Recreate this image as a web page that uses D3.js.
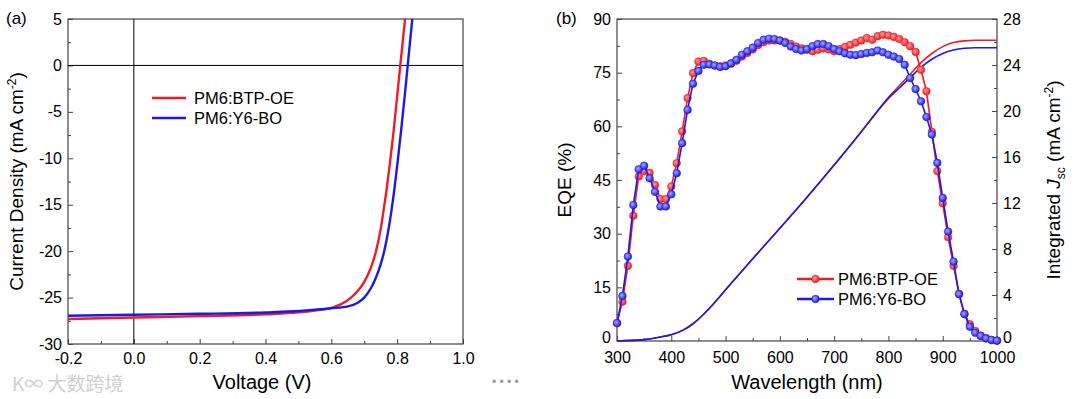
<!DOCTYPE html>
<html>
<head>
<meta charset="utf-8">
<script src="https://cdn.jsdelivr.net/npm/d3@7"></script>
<style>
body { margin: 0; background: #fff; }
svg { display: block; font-family: "Liberation Sans", Arial, sans-serif; }
</style>
</head>
<body>
<div id="chart"></div>
<script>
// ---- (a) J-V curves ----
const jvVoltRed = [-0.2, 0.0, 0.2, 0.4, 0.5, 0.55, 0.6, 0.63, 0.66, 0.68, 0.70, 0.72, 0.735, 0.75, 0.76, 0.77, 0.78, 0.79, 0.80, 0.81, 0.824];
const jvCurRed  = [-27.3, -27.15, -27.0, -26.8, -26.6, -26.4, -26.1, -25.7, -25.0, -24.3, -23.3, -21.8, -20.1, -17.6, -15.3, -12.8, -9.9, -6.8, -3.3, 0.2, 5];
const jvVoltBlue = [-0.2, 0.0, 0.2, 0.4, 0.5, 0.55, 0.6, 0.65, 0.68, 0.70, 0.72, 0.735, 0.75, 0.762, 0.772, 0.782, 0.792, 0.802, 0.812, 0.822, 0.832, 0.846];
const jvCurBlue  = [-26.95, -26.85, -26.75, -26.6, -26.45, -26.3, -26.15, -25.95, -25.55, -25.0, -24.0, -22.9, -21.4, -19.8, -18.0, -15.8, -13.2, -10.2, -7.0, -3.6, 0, 5];

// ---- (b) EQE + integrated Jsc ----
const wavelengths = [300, 310, 320, 330, 340, 350, 360, 370, 380, 390,
  400, 410, 420, 430, 440, 450, 460, 470, 480, 490,
  500, 510, 520, 530, 540, 550, 560, 570, 580, 590,
  600, 610, 620, 630, 640, 650, 660, 670, 680, 690,
  700, 710, 720, 730, 740, 750, 760, 770, 780, 790,
  800, 810, 820, 830, 840, 850, 860, 870, 880, 890,
  900, 910, 920, 930, 940, 950, 960, 970, 980, 990, 1000];
const eqeRed = [5.0, 11.0, 21.0, 35.0, 46.0, 47.5, 47.0, 43.6, 39.7, 39.7,
  43.2, 49.7, 58.6, 67.9, 74.9, 78.1, 78.3, 77.5, 77.0, 76.8,
  77.0, 77.5, 78.3, 79.5, 80.5, 81.5, 82.7, 83.5, 84.0, 84.0,
  84.0, 83.6, 83.0, 82.3, 81.8, 81.4, 81.0, 81.4, 81.8, 81.5,
  81.0, 81.6, 82.2, 82.8, 83.4, 84.0, 84.7, 84.2, 85.2, 85.6,
  85.4, 85.0, 84.4, 83.5, 82.4, 80.8, 75.8, 69.8, 58.5, 47.5,
  38.5, 29.0, 21.0, 13.2, 7.6, 4.7, 2.8, 1.5, 0.8, 0.3, 0.1];
const eqeBlue = [5.0, 12.6, 23.6, 38.0, 48.0, 49.0, 45.5, 41.7, 37.6, 37.6,
  41.0, 46.9, 55.3, 64.6, 71.9, 75.5, 77.2, 77.3, 77.0, 76.6,
  76.8, 77.6, 78.6, 80.0, 81.0, 82.0, 83.3, 84.2, 84.5, 84.4,
  84.0, 83.3, 82.3, 81.6, 81.2, 81.6, 82.4, 83.0, 83.0, 82.4,
  81.6, 81.0, 80.4, 80.0, 79.9, 80.2, 80.5, 80.7, 81.2, 80.7,
  80.0, 79.5, 78.8, 77.2, 73.5, 70.4, 67.0, 62.6, 57.7, 49.8,
  40.0, 30.6, 22.2, 13.1, 7.5, 4.0, 2.3, 1.4, 0.7, 0.3, 0.1];
const jscWave = [300, 350, 380, 400, 420, 440, 460, 480, 500, 550, 600, 650, 700, 750, 780, 800, 820, 840, 860, 880, 900, 920, 940, 960, 1000];
const jscRed  = [0, 0.12, 0.35, 0.55, 0.9, 1.5, 2.35, 3.35, 4.45, 7.15, 9.8, 12.5, 15.3, 18.2, 20.0, 21.2, 22.2, 23.2, 24.2, 25.0, 25.6, 25.95, 26.1, 26.15, 26.15];
const jscBlue = [0, 0.12, 0.35, 0.55, 0.9, 1.5, 2.35, 3.35, 4.45, 7.15, 9.8, 12.5, 15.3, 18.2, 20.0, 21.1, 22.0, 22.9, 23.8, 24.5, 25.0, 25.3, 25.45, 25.5, 25.5];

const seriesNames = ["PM6:BTP-OE", "PM6:Y6-BO"];
const red = "#ee1c24", blue = "#1a1ae8";

const svg = d3.select("#chart").append("svg")
    .attr("width", 1080).attr("height", 399);

const defs = svg.append("defs");
[["gRed", red, "#ff9a9a"], ["gBlue", blue, "#a8a8ff"]].forEach(([id, c, hi]) => {
    const g = defs.append("radialGradient").attr("id", id)
        .attr("cx", "40%").attr("cy", "40%").attr("r", "60%");
    g.append("stop").attr("offset", "0%").attr("stop-color", hi);
    g.append("stop").attr("offset", "100%").attr("stop-color", c);
});

function addAxis(g, axis, major, pad) {
    g.call(axis.tickValues(major).tickSize(-5).tickPadding(pad || 6));
    g.selectAll(".tick text").style("font-size", "16px").attr("fill", "#000");
    g.select(".domain").remove();
    g.selectAll(".tick line").attr("stroke", "#444");
}
function minorAxis(g, axis, vals) {
    g.call(axis.tickValues(vals).tickSize(-3).tickFormat(""));
    g.select(".domain").remove();
    g.selectAll(".tick line").attr("stroke", "#444");
}

// ============ Panel (a) ============
const A = {x0: 68, x1: 463, y0: 19, y1: 344};
const xa = d3.scaleLinear().domain([-0.2, 1.0]).range([A.x0, A.x1]);
const ya = d3.scaleLinear().domain([-30, 5]).range([A.y1, A.y0]);
const pa = svg.append("g");

minorAxis(pa.append("g").attr("transform", `translate(0,${A.y1})`), d3.axisBottom(xa), [-0.1, 0.1, 0.3, 0.5, 0.7, 0.9]);
minorAxis(pa.append("g").attr("transform", `translate(${A.x0},0)`), d3.axisLeft(ya), [-27.5, -22.5, -17.5, -12.5, -7.5, -2.5, 2.5]);
const xaAx = pa.append("g").attr("transform", `translate(0,${A.y1})`);
addAxis(xaAx, d3.axisBottom(xa), [-0.2, 0, 0.2, 0.4, 0.6, 0.8, 1.0], 9);
xaAx.selectAll(".tick text").text(d => d.toFixed(1));
const yaAx = pa.append("g").attr("transform", `translate(${A.x0},0)`);
addAxis(yaAx, d3.axisLeft(ya), [-30, -25, -20, -15, -10, -5, 0, 5]);
yaAx.selectAll(".tick text").text(d => String(d));

pa.append("rect").attr("x", A.x0).attr("y", A.y0)
    .attr("width", A.x1 - A.x0).attr("height", A.y1 - A.y0)
    .attr("fill", "none").attr("stroke", "#444").attr("stroke-width", 1.2);
pa.append("line").attr("x1", A.x0).attr("x2", A.x1).attr("y1", ya(0)).attr("y2", ya(0))
    .attr("stroke", "#000").attr("stroke-width", 1);
pa.append("line").attr("x1", xa(0)).attr("x2", xa(0)).attr("y1", A.y0).attr("y2", A.y1)
    .attr("stroke", "#000").attr("stroke-width", 1);

const clipA = defs.append("clipPath").attr("id", "clipA");
clipA.append("rect").attr("x", A.x0).attr("y", A.y0).attr("width", A.x1 - A.x0).attr("height", A.y1 - A.y0);

const jvLine = d3.line().x(d => xa(d[0])).y(d => ya(d[1])).curve(d3.curveMonotoneX);
[[jvVoltRed, jvCurRed, red], [jvVoltBlue, jvCurBlue, blue]].forEach(([v, j, c]) => {
    pa.append("path").attr("clip-path", "url(#clipA)")
        .datum(d3.zip(v, j))
        .attr("d", jvLine).attr("fill", "none")
        .attr("stroke", c).attr("stroke-width", 2.4);
});

// legend (a)
seriesNames.forEach((n, i) => {
    const y = 98 + i * 20;
    pa.append("line").attr("x1", 152).attr("x2", 186).attr("y1", y).attr("y2", y)
        .attr("stroke", i ? blue : red).attr("stroke-width", 2.4);
    pa.append("text").attr("x", 194).attr("y", y + 6).style("font-size", "16.5px").text(n);
});

pa.append("text").attr("x", 6).attr("y", 24).style("font-size", "17px").text("(a)");
pa.append("text").attr("x", 262).attr("y", 389).attr("text-anchor", "middle")
    .style("font-size", "20px").text("Voltage (V)");
const ylabA = pa.append("text").attr("transform", `translate(23,${(A.y0 + A.y1) / 2}) rotate(-90)`)
    .attr("text-anchor", "middle").style("font-size", "19px");
ylabA.append("tspan").text("Current Density (mA cm");
ylabA.append("tspan").attr("dy", -7).style("font-size", "12px").text("-2");
ylabA.append("tspan").attr("dy", 7).text(")");

// ============ Panel (b) ============
const B = {x0: 617, x1: 997, y0: 19, y1: 341};
const xb = d3.scaleLinear().domain([300, 1000]).range([B.x0, B.x1]);
const yb = d3.scaleLinear().domain([0, 90]).range([B.y1, B.y0]);
const yr = d3.scaleLinear().domain([0, 28]).range([B.y1, B.y0]);
const pb = svg.append("g");

minorAxis(pb.append("g").attr("transform", `translate(0,${B.y1})`), d3.axisBottom(xb), [350, 450, 550, 650, 750, 850, 950]);
minorAxis(pb.append("g").attr("transform", `translate(${B.x0},0)`), d3.axisLeft(yb), [7.5, 22.5, 37.5, 52.5, 67.5, 82.5]);
minorAxis(pb.append("g").attr("transform", `translate(${B.x1},0)`), d3.axisRight(yr), [2, 6, 10, 14, 18, 22, 26]);
const xbAx = pb.append("g").attr("transform", `translate(0,${B.y1})`);
addAxis(xbAx, d3.axisBottom(xb), [300, 400, 500, 600, 700, 800, 900, 1000], 11);
xbAx.selectAll(".tick text").text(d => String(d));
const ybAx = pb.append("g").attr("transform", `translate(${B.x0},0)`);
addAxis(ybAx, d3.axisLeft(yb), [0, 15, 30, 45, 60, 75, 90]);
ybAx.selectAll(".tick text").attr("dy", d => d === 0 ? "0.1em" : "0.32em");
const yrAx = pb.append("g").attr("transform", `translate(${B.x1},0)`);
addAxis(yrAx, d3.axisRight(yr), [0, 4, 8, 12, 16, 20, 24, 28]);
yrAx.selectAll(".tick text").attr("dy", d => d === 0 ? "0.1em" : "0.32em");

pb.append("rect").attr("x", B.x0).attr("y", B.y0)
    .attr("width", B.x1 - B.x0).attr("height", B.y1 - B.y0)
    .attr("fill", "none").attr("stroke", "#444").attr("stroke-width", 1.2);

const jscLine = d3.line().x(d => xb(d[0])).y(d => yr(d[1])).curve(d3.curveMonotoneX);
[[jscRed, red], [jscBlue, blue]].forEach(([j, c]) => {
    pb.append("path").datum(d3.zip(jscWave, j))
        .attr("d", jscLine).attr("fill", "none")
        .attr("stroke", c).attr("stroke-width", 1.6);
});

const eqeLine = d3.line().x(d => xb(d[0])).y(d => yb(d[1]));
[[eqeRed, red, "gRed"], [eqeBlue, blue, "gBlue"]].forEach(([e, c, gid]) => {
    const pts = d3.zip(wavelengths, e);
    pb.append("path").datum(pts).attr("d", eqeLine).attr("fill", "none")
        .attr("stroke", c).attr("stroke-width", 1.6);
    pb.append("g").selectAll("circle").data(pts).join("circle")
        .attr("cx", d => xb(d[0])).attr("cy", d => yb(d[1])).attr("r", 3.8)
        .attr("fill", `url(#${gid})`).attr("stroke", c).attr("stroke-width", 0.6);
});

// legend (b)
seriesNames.forEach((n, i) => {
    const y = 279 + i * 20, c = i ? blue : red;
    pb.append("line").attr("x1", 797).attr("x2", 834).attr("y1", y).attr("y2", y)
        .attr("stroke", c).attr("stroke-width", 2.4);
    pb.append("circle").attr("cx", 815.5).attr("cy", y).attr("r", 3.8)
        .attr("fill", `url(#${i ? "gBlue" : "gRed"})`).attr("stroke", c).attr("stroke-width", 0.6);
    pb.append("text").attr("x", 838).attr("y", y + 6).style("font-size", "16.5px").text(n);
});

pb.append("text").attr("x", 556).attr("y", 24).style("font-size", "17px").text("(b)");
pb.append("text").attr("x", 807).attr("y", 389).attr("text-anchor", "middle")
    .style("font-size", "20px").text("Wavelength (nm)");
pb.append("text").attr("transform", `translate(571,${(B.y0 + B.y1) / 2}) rotate(-90)`)
    .attr("text-anchor", "middle").style("font-size", "19px").text("EQE (%)");
const ylabB = pb.append("text").attr("transform", `translate(1060,${(B.y0 + B.y1) / 2}) rotate(-90)`)
    .attr("text-anchor", "middle").style("font-size", "19px");
ylabB.append("tspan").text("Integrated ");
ylabB.append("tspan").style("font-style", "italic").text("J");
ylabB.append("tspan").attr("dy", 5).style("font-size", "12px").text("sc");
ylabB.append("tspan").attr("dy", -5).text(" (mA cm");
ylabB.append("tspan").attr("dy", -7).style("font-size", "12px").text("-2");
ylabB.append("tspan").attr("dy", 7).text(")");

// watermark + page furniture
svg.append("text").attr("x", 12).attr("y", 391).style("font-size", "19px")
    .attr("fill", "#d0d0d0").attr("font-family", "Noto Sans CJK SC").text("K∞ 大数跨境");
svg.append("text").attr("x", 492).attr("y", 386).style("font-size", "12px")
    .attr("fill", "#999").text("•  •  •  •");
</script>
</body>
</html>
